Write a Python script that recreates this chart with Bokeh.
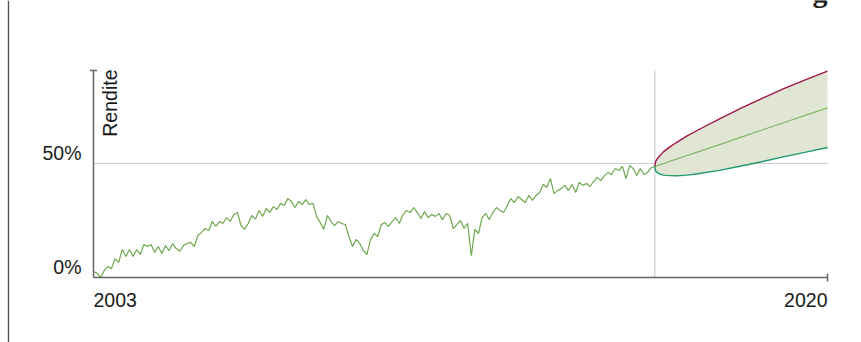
import math
from bokeh.plotting import figure
from bokeh.models import Range1d, BoxAnnotation
from bokeh.core.properties import value
from bokeh.embed import file_html
from bokeh.resources import INLINE

# ---------------- data ----------------
START_YEAR = 2003
END_YEAR = 2020
FORECAST_START = 2016
Y_MAX = 90.8
GRID_Y = 50

# monthly cumulative return (%), Jan 2003 .. Jan 2016
returns = [
    2.6, 1.8, 0.0, 3.1, 4.8, 3.9, 8.3, 6.6, 12.3, 9.2, 12.3, 9.2,          # 2003
    12.3, 10.1, 14.5, 13.6, 14.5, 11.0, 13.6, 10.5, 14.0, 11.8, 14.9, 12.7,  # 2004
    11.5, 14.0, 14.9, 15.4, 13.6, 18.4, 19.7, 21.5, 20.6, 24.6, 22.4, 24.6,  # 2005
    23.7, 26.3, 24.6, 27.6, 28.5, 22.8, 21.1, 23.7, 27.2, 25.6, 29.4, 26.8,  # 2006
    30.3, 28.5, 31.1, 29.8, 32.5, 31.6, 34.6, 33.3, 30.7, 33.3, 32.0, 34.2,  # 2007
    32.0, 32.5, 26.8, 24.1, 21.1, 27.2, 24.6, 22.8, 24.6, 23.7, 23.2, 18.0,  # 2008
    13.6, 16.7, 14.9, 11.8, 10.1, 16.7, 19.3, 18.0, 23.2, 24.1, 22.4, 24.6,  # 2009
    26.3, 23.7, 27.6, 29.4, 28.5, 30.7, 28.5, 25.9, 28.9, 26.3, 27.6, 26.8,  # 2010
    28.1, 25.4, 28.1, 27.2, 21.5, 23.2, 25.0, 21.5, 23.7, 9.6, 21.1, 19.3,   # 2011
    26.3, 28.1, 25.4, 28.5, 30.7, 29.4, 28.5, 31.6, 34.6, 32.9, 35.5, 34.2,  # 2012
    32.9, 36.0, 33.8, 36.0, 37.3, 40.8, 39.5, 43.4, 36.8, 38.2, 39.0, 40.4,  # 2013
    38.2, 40.8, 37.3, 41.7, 40.4, 41.2, 39.9, 42.1, 43.9, 42.5, 44.7, 46.1,  # 2014
    45.2, 47.8, 46.9, 48.7, 43.4, 49.1, 47.8, 44.7, 47.8, 45.2, 46.1, 48.2,  # 2015
    48.7,                                                                    # 2016
]
months = [START_YEAR + i / 12 for i in range(len(returns))]

# forecast cone (years after forecast start, %)
forecast_t = [0, 0.02, 0.05, 0.1, 0.2, 0.35, 0.5, 0.75, 1, 1.5, 2, 2.5, 3, 3.5, 4]
forecast_mid = [48.7, 48.8, 49.0, 49.3, 50.0, 51.0, 51.9, 53.5, 55.1, 58.3, 61.6, 64.8, 68.0, 71.2, 74.4]
forecast_up = [48.7, 50.8, 51.9, 53.1, 55.1, 57.3, 59.2, 62.1, 64.7, 69.6, 74.3, 78.7, 83.0, 86.8, 90.5]
forecast_lo = [48.7, 46.8, 46.1, 45.5, 44.9, 44.7, 44.6, 44.9, 45.5, 47.0, 48.9, 50.9, 53.0, 55.0, 57.0]
forecast_x = [FORECAST_START + t for t in forecast_t]

y_ticks = [0, 50]
y_tick_labels = ["0%", "50%"]
x_ticks = [START_YEAR, END_YEAR]
x_tick_labels = ["2003", "2020"]
y_title = "Rendite"
title_fragment = "g"

# ---------------- layout / styles ----------------
W, H = 861, 342
LEFT, RIGHT, TOP, BOTTOM = 93, 827, 70, 277   # pixel box of the axes
FONT = "Liberation Sans"
TXT = "#1a1a1a"
AXIS = "#666666"
GRID = "#cccccc"

xpp = (END_YEAR - START_YEAR) / (RIGHT - LEFT)
ypp = Y_MAX / (BOTTOM - TOP)
x_range = Range1d(START_YEAR - LEFT * xpp, END_YEAR + (W - RIGHT) * xpp)
y_range = Range1d(0 - (H - BOTTOM) * ypp, Y_MAX + TOP * ypp)

p = figure(width=W, height=H, output_backend="svg", toolbar_location=None,
           x_range=x_range, y_range=y_range, x_axis_type=None, y_axis_type=None,
           min_border=0)
p.outline_line_color = None
p.grid.visible = False
p.background_fill_color = "white"
p.border_fill_color = "white"

# grid lines
p.segment(x0=[START_YEAR], y0=[GRID_Y], x1=[END_YEAR], y1=[GRID_Y],
          line_color=GRID, line_width=1.2)
p.segment(x0=[FORECAST_START], y0=[0], x1=[FORECAST_START], y1=[Y_MAX],
          line_color=GRID, line_width=1.2)

# forecast cone
p.varea(x=forecast_x, y1=forecast_lo, y2=forecast_up, fill_color="#e1e6d4")
p.line(forecast_x, forecast_mid, line_color="#80b865", line_width=1.2)
p.line(forecast_x, forecast_up, line_color="#9e1446", line_width=1.4)
p.line(forecast_x, forecast_lo, line_color="#1f9a6e", line_width=1.4)

# history
p.line(months, returns, line_color="#6ea84f", line_width=1.2)

# axes
p.segment(x0=[START_YEAR, START_YEAR], y0=[0, 0], x1=[END_YEAR, START_YEAR], y1=[0, Y_MAX],
          line_color=AXIS, line_width=1.5)
p.scatter(x=[END_YEAR], y=[0], marker="dash", size=8, angle=math.pi / 2,
          line_color=AXIS, line_width=1.5)
p.scatter(x=[START_YEAR], y=[Y_MAX], marker="dash", size=7,
          line_color=AXIS, line_width=1.5)

# texts
p.text(x=[START_YEAR] * len(y_ticks), y=y_ticks, text=y_tick_labels,
       x_offset=-12, y_offset=-10.5, text_align="right", text_baseline="alphabetic",
       text_font=value(FONT), text_font_size="19.5px", text_color=TXT)
p.text(x=[x_ticks[0]], y=[0], text=[x_tick_labels[0]], y_offset=22.5,
       text_align="left", text_baseline="alphabetic",
       text_font=value(FONT), text_font_size="19.5px", text_color=TXT)
p.text(x=[x_ticks[1]], y=[0], text=[x_tick_labels[1]], y_offset=22.5,
       text_align="right", text_baseline="alphabetic",
       text_font=value(FONT), text_font_size="19.5px", text_color=TXT)
p.text(x=[START_YEAR], y=[Y_MAX], text=[y_title], x_offset=16, y_offset=-1,
       angle=math.pi / 2, text_align="right", text_baseline="alphabetic",
       text_font=value(FONT), text_font_size="19.5px", text_color=TXT)
p.text(x=[END_YEAR], y=[Y_MAX], text=[title_fragment], y_offset=-79,
       text_align="right", text_baseline="alphabetic",
       text_font=value("Liberation Serif"), text_font_style="bold",
       text_font_size="30px", text_color=TXT)

# left page rule
p.add_layout(BoxAnnotation(left=7.3, right=8.7, left_units="screen", right_units="screen",
                           top=0, bottom=H, top_units="screen", bottom_units="screen",
                           fill_color="#555555", fill_alpha=1, line_color=None))

open("out.html", "w").write(file_html(p, INLINE))
